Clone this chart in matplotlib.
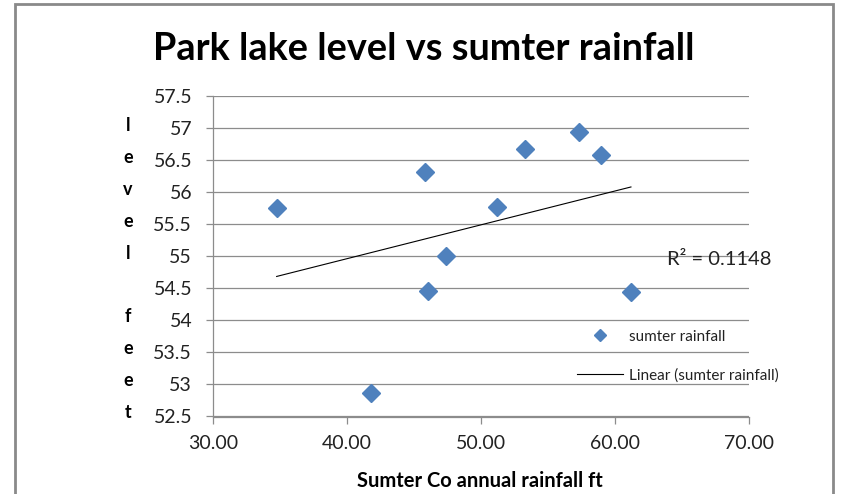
import matplotlib
matplotlib.use("Agg")
import matplotlib.pyplot as plt
import numpy as np
from matplotlib.lines import Line2D
from matplotlib.patches import Rectangle

plt.rcParams['font.family'] = ['Lato', 'DejaVu Sans']

# %%
# Data
rainfall = [34.75, 41.77, 45.82, 46.07, 47.36, 51.17, 53.28, 57.34, 58.93, 61.19]
lake_level = [55.75, 52.86, 56.31, 54.46, 55.00, 55.76, 56.67, 56.93, 56.57, 54.44]
r_squared_text = "R\u00b2 = 0.1148"

x_ticks = [30, 40, 50, 60, 70]
y_ticks = [52.5, 53, 53.5, 54, 54.5, 55, 55.5, 56, 56.5, 57, 57.5]

# %%
# Linear trendline over the data range
slope, intercept = np.polyfit(rainfall, lake_level, 1)
trend_x = np.array([min(rainfall), max(rainfall)])
trend_y = slope * trend_x + intercept

# %%
fig = plt.figure(figsize=(8.45, 4.94), dpi=100)
ax = fig.add_axes([213/845, 1 - 416.5/494, 536/845, 320.8/494])

grid_c = '#8c8c8c'
for yv in y_ticks:
    ax.axhline(yv, color=grid_c, lw=0.9, zorder=1)

ax.plot(trend_x, trend_y, color='black', lw=0.8, zorder=2,
        label='Linear (sumter rainfall)')
ax.plot(rainfall, lake_level, 'D', color='#4f81bd', ms=9, mec='#4f81bd',
        zorder=3, label='sumter rainfall')

ax.set_xlim(30, 70)
ax.set_ylim(52.5, 57.5)
ax.set_xticks(x_ticks)
ax.set_xticklabels(["%.2f" % v for v in x_ticks])
ax.set_yticks(y_ticks)
ax.set_yticklabels(["%g" % v for v in y_ticks])
ax.tick_params(axis='both', labelsize=14, colors=grid_c, labelcolor='#222222',
               length=5, width=0.9, direction='out')
ax.tick_params(axis='x', pad=8)
ax.tick_params(axis='y', pad=10)
for side in ['top', 'right']:
    ax.spines[side].set_visible(False)
for side in ['left', 'bottom']:
    ax.spines[side].set_color(grid_c)
    ax.spines[side].set_linewidth(0.9)

ax.text(63.9, 54.95, r_squared_text, fontsize=14.5, color='#222222',
        va='center', ha='left', clip_on=False, zorder=4)

handles = [Line2D([], [], marker='D', ls='none', color='#4f81bd', ms=6),
           Line2D([], [], color='black', lw=0.8)]
leg = fig.legend(handles, ['sumter rainfall', 'Linear (sumter rainfall)'],
                 loc='upper left', bbox_to_anchor=(563/845, 1 - 316/494),
                 frameon=False, fontsize=11, labelspacing=1.6,
                 handlelength=3.0, handletextpad=0.4)
for t in leg.get_texts():
    t.set_color('#222222')

fig.text(424/845, 1 - 49/494, "Park lake level vs sumter rainfall",
         fontsize=27.3, fontweight='bold', ha='center', va='center')
fig.text(128/845, 1 - 269/494, "l\ne\nv\ne\nl\n\nf\ne\ne\nt",
         fontsize=13, fontweight='bold', ha='center', va='center',
         linespacing=2.07)
fig.text(480/845, 1 - 481/494, "Sumter Co annual rainfall ft",
         fontsize=14.5, fontweight='bold', ha='center', va='center')

# chart area border
fig.patches.append(Rectangle((15/845, -0.05), (833 - 15)/845, 1.05 - 4/494,
                             transform=fig.transFigure, fill=False,
                             ec='#8a8a8a', lw=2))

fig.savefig("out.png", dpi=100)
